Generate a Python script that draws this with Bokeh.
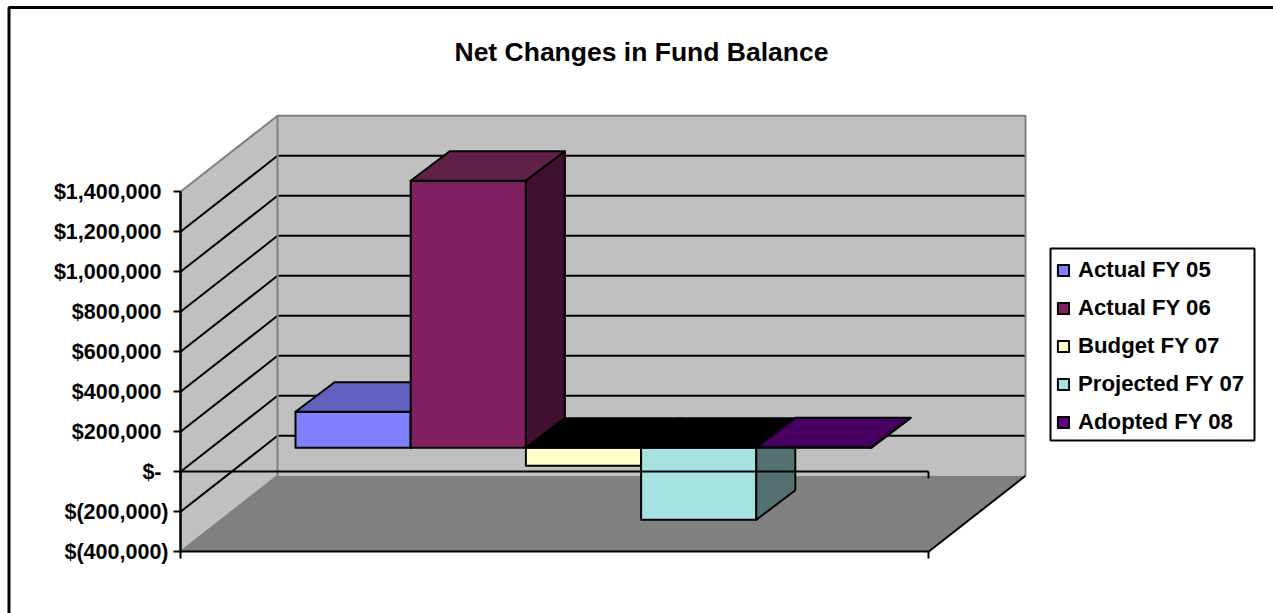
from bokeh.embed import file_html
from bokeh.models import (ColumnDataSource, FixedTicker, Label, Legend, LegendItem,
                          LinearAxis, Range1d)
from bokeh.plotting import figure
from bokeh.resources import INLINE

TITLE = "Net Changes in Fund Balance"
SERIES = ["Actual FY 05", "Actual FY 06", "Budget FY 07", "Projected FY 07", "Adopted FY 08"]
VALUES = [180000, 1335000, -90000, -360000, 3000]
FRONT_COLORS = ["#8080FF", "#802060", "#FFFFCC", "#A6E2E2", "#600080"]
TOP_COLORS = ["#6060BF", "#602048", "#000000", "#000000", "#480060"]
SIDE_COLORS = ["#404080", "#401030", "#808066", "#537171", "#300040"]
TICK_VALUES = [1400000, 1200000, 1000000, 800000, 600000, 400000, 200000, 0, -200000, -400000]
TICK_LABELS = ["$1,400,000", "$1,200,000", "$1,000,000", "$800,000", "$600,000", "$400,000",
               "$200,000", "$-", "$(200,000)", "$(400,000)"]

W, H = 1273, 613
PER_PX = 5000.0          # dollars per vertical pixel
ZERO_PX = 471.3          # page row of the $0 tick
AXIS_X, FRONT_RIGHT = 180.0, 928.0
DEPTH_X, DEPTH_Y = 97.0, 76.0 * PER_PX     # wall depth in x pixels and y dollars
BAR_LEFT, BAR_W = 295.0, 115.2
BAR_BASE = 24.0 * PER_PX  # lift of the bar front above the front plane
BAR_DX, BAR_DY = 39.0, 29.5 * PER_PX       # depth of a bar
YMIN, YMAX = TICK_VALUES[-1], TICK_VALUES[0]
BLACK, WALL, FLOOR, EDGE = "#000000", "#C0C0C0", "#808080", "#808080"


def row(px):
    """Dollar value at a page row, for furniture placed by pixel."""
    return (ZERO_PX - px) * PER_PX


p = figure(width=W, height=H, output_backend="svg", toolbar_location=None,
           x_range=Range1d(0, W),
           y_range=Range1d(row(H), row(0)),
           min_border=0, min_border_left=0, min_border_right=0, min_border_top=0,
           min_border_bottom=0, x_axis_location=None, y_axis_location=None,
           outline_line_color=None, border_fill_color="white", background_fill_color="white")
p.grid.visible = False

# outer chart area: only its top and left edges fall inside the page
p.line([8.5, 8.5, W], [row(H), row(7), row(7)], line_color=BLACK, line_width=3)

# walls and floor of the oblique box
p.patch([AXIS_X, AXIS_X + DEPTH_X, AXIS_X + DEPTH_X, AXIS_X],
        [YMAX, YMAX + DEPTH_Y, YMIN + DEPTH_Y, YMIN],
        fill_color=WALL, line_color=None)
p.patch([AXIS_X + DEPTH_X, FRONT_RIGHT + DEPTH_X, FRONT_RIGHT + DEPTH_X, AXIS_X + DEPTH_X],
        [YMAX + DEPTH_Y, YMAX + DEPTH_Y, YMIN + DEPTH_Y, YMIN + DEPTH_Y],
        fill_color=WALL, line_color=None)
p.patch([AXIS_X, FRONT_RIGHT, FRONT_RIGHT + DEPTH_X, AXIS_X + DEPTH_X],
        [YMIN, YMIN, YMIN + DEPTH_Y, YMIN + DEPTH_Y],
        fill_color=FLOOR, line_color=None)

# gridlines run along the side wall and across the back wall
grid_ticks = [t for t in TICK_VALUES if YMIN < t < YMAX]
p.multi_line([[AXIS_X, AXIS_X + DEPTH_X, FRONT_RIGHT + DEPTH_X] for _ in grid_ticks],
             [[t, t + DEPTH_Y, t + DEPTH_Y] for t in grid_ticks],
             line_color=BLACK, line_width=2)

# grey wall edges
p.line([AXIS_X, AXIS_X + DEPTH_X, FRONT_RIGHT + DEPTH_X, FRONT_RIGHT + DEPTH_X],
       [YMAX, YMAX + DEPTH_Y, YMAX + DEPTH_Y, YMIN + DEPTH_Y], line_color=EDGE, line_width=2)
p.line([AXIS_X + DEPTH_X, AXIS_X + DEPTH_X, AXIS_X],
       [YMAX + DEPTH_Y, YMIN + DEPTH_Y, YMIN], line_color=EDGE, line_width=2)
p.line([FRONT_RIGHT, FRONT_RIGHT + DEPTH_X],
       [YMIN, YMIN + DEPTH_Y], line_color=BLACK, line_width=2)

# one renderer per series: front, top and side faces of the bar
renderers = []
for i, v in enumerate(VALUES):
    x0 = BAR_LEFT + i * BAR_W
    x1 = x0 + BAR_W
    y0 = BAR_BASE
    y1 = BAR_BASE + v
    top = max(y0, y1)
    source = ColumnDataSource(dict(
        xs=[[x0, x1, x1, x0],
            [x0, x1, x1 + BAR_DX, x0 + BAR_DX],
            [x1, x1 + BAR_DX, x1 + BAR_DX, x1]],
        ys=[[y0, y0, y1, y1],
            [top, top, top + BAR_DY, top + BAR_DY],
            [min(y0, y1), min(y0, y1) + BAR_DY, top + BAR_DY, top]],
        fill=[FRONT_COLORS[i], TOP_COLORS[i], SIDE_COLORS[i]],
    ))
    renderers.append(p.patches("xs", "ys", source=source, fill_color="fill",
                               line_color=BLACK, line_width=2, line_join="round"))

# value axis, drawn in two parts so bracketed labels hang past the others
def value_axis(ticks, standoff):
    axis = LinearAxis(fixed_location=AXIS_X, bounds=(YMIN, YMAX),
                      ticker=FixedTicker(ticks=ticks),
                      major_label_overrides={t: TICK_LABELS[TICK_VALUES.index(t)] for t in ticks},
                      major_label_standoff=standoff,
                      major_label_text_font="Liberation Sans",
                      major_label_text_font_style="bold",
                      major_label_text_font_size="21.5px",
                      major_label_text_color=BLACK,
                      major_tick_in=0, major_tick_out=7, minor_tick_out=0, minor_tick_in=0,
                      major_tick_line_color=BLACK, major_tick_line_width=2,
                      axis_line_color=BLACK, axis_line_width=2)
    p.add_layout(axis, "left")

value_axis([t for t in TICK_VALUES if t >= 0], 12)
value_axis([t for t in TICK_VALUES if t < 0], 5)

# category axes along the front plane, at zero and along the floor
for level in (0, YMIN):
    axis = LinearAxis(fixed_location=level, bounds=(AXIS_X, FRONT_RIGHT),
                      ticker=FixedTicker(ticks=[AXIS_X, FRONT_RIGHT]),
                      major_label_overrides={AXIS_X: "", FRONT_RIGHT: ""},
                      major_tick_in=0, major_tick_out=7, minor_tick_out=0, minor_tick_in=0,
                      major_tick_line_color=BLACK, major_tick_line_width=2,
                      axis_line_color=BLACK, axis_line_width=2)
    p.add_layout(axis, "below")

p.add_layout(Label(x=641, y=row(51), text=TITLE, text_align="center",
                   text_baseline="middle", text_font="Liberation Sans", text_font_style="bold",
                   text_font_size="26.5px", text_color=BLACK))

# legend frame is its own box so the rows can sit freely inside it
p.quad(left=[1050], right=[1254], top=[row(248)], bottom=[row(440)],
       fill_color="white", line_color=BLACK, line_width=2)

legend = Legend(items=[LegendItem(label=s, renderers=[r], index=0)
                       for s, r in zip(SERIES, renderers)],
                location=(1056, H - 435), orientation="vertical", margin=0,
                padding=8, spacing=12, glyph_width=14, glyph_height=14, label_standoff=8,
                label_height=24, label_text_font="Liberation Sans", label_text_font_style="bold",
                label_text_font_size="22.2px", label_text_color=BLACK,
                border_line_color=None, background_fill_alpha=0.0)
p.add_layout(legend, "center")

open("out.html", "w").write(file_html(p, INLINE))
